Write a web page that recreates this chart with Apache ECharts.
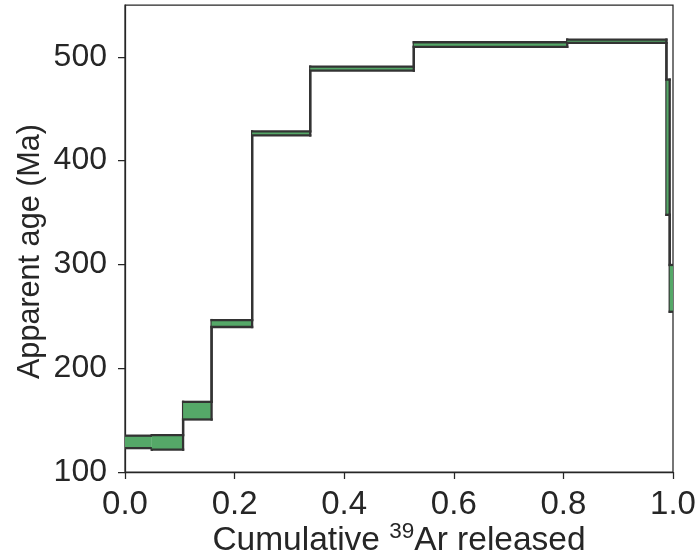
<!DOCTYPE html>
<html>
<head>
<meta charset="utf-8">
<script src="https://cdn.jsdelivr.net/npm/echarts@6/dist/echarts.min.js"></script>
<style>html,body{margin:0;padding:0;background:#fff}#c{width:699px;height:557px}</style>
</head>
<body>
<div id="c"></div>
<script>
// Step-heating data (cumulative 39Ar fraction, apparent age in Ma)
const stepStart = [0.000, 0.049, 0.106, 0.158, 0.232, 0.338, 0.527, 0.807, 0.988, 0.994];
const stepEnd   = [0.049, 0.106, 0.158, 0.232, 0.338, 0.527, 0.807, 0.988, 0.994, 1.000];
const ageLow    = [123.0, 121.5, 150.6, 239.7, 424.3, 486.7, 509.7, 513.5, 347.8, 254.4];
const ageHigh   = [135.0, 135.5, 167.6, 246.4, 428.2, 490.6, 514.1, 516.7, 478.1, 299.5];
const xTicks = [0, 0.2, 0.4, 0.6, 0.8, 1.0];
const yTicks = [100, 200, 300, 400, 500];

const FONT = "'Liberation Sans', Arial, Helvetica, sans-serif";
const TXT = '#262626';
const EDGE = '#333333';
const FILL = '#55A868';
const LW = 2.3;

// each item: start, end, low, high, nextLow, nextHigh (next = same if last)
const stepData = stepStart.map((s, i) => {
  const j = Math.min(i + 1, stepStart.length - 1);
  return [s, stepEnd[i], ageLow[i], ageHigh[i], ageLow[j], ageHigh[j]];
});

const chart = echarts.init(document.getElementById('c'), null, {renderer: 'canvas'});
chart.setOption({
  animation: false,
  backgroundColor: '#fff',
  grid: {left: 125, right: 26, top: 5, bottom: 85, show: true, borderColor: TXT, borderWidth: 1.25,
    backgroundColor: 'transparent', containLabel: false, outerBoundsMode: 'none'},
  xAxis: {
    type: 'value', min: 0, max: 1, interval: 0.2,
    name: '{a|Cumulative }{s|39}{a|Ar released}',
    nameLocation: 'middle', nameGap: 48, nameMoveOverlap: false,
    nameTextStyle: {
      color: TXT, fontFamily: FONT, fontSize: 33.5,
      rich: {
        a: {fontSize: 33.5, fontFamily: FONT, color: TXT, verticalAlign: 'bottom', lineHeight: 38},
        s: {fontSize: 22.5, fontFamily: FONT, color: TXT, verticalAlign: 'top', lineHeight: 38}
      }
    },
    axisLine: {show: true, lineStyle: {color: TXT, width: 1.25}},
    axisTick: {show: true, length: 7, lineStyle: {color: TXT, width: 1.25}, customValues: xTicks},
    axisLabel: {color: TXT, fontFamily: FONT, fontSize: 33, margin: 16, customValues: xTicks,
      formatter: v => v.toFixed(1)},
    splitLine: {show: false}
  },
  yAxis: {
    type: 'value', min: 100, max: 550, interval: 100,
    name: 'Apparent age (Ma)', nameLocation: 'middle', nameGap: 79, nameMoveOverlap: false,
    nameTextStyle: {color: TXT, fontFamily: FONT, fontSize: 30.6, padding: [0, 26, 0, 0]},
    axisLine: {show: true, lineStyle: {color: TXT, width: 1.25}},
    axisTick: {show: true, length: 7, lineStyle: {color: TXT, width: 1.25}, customValues: yTicks},
    axisLabel: {color: TXT, fontFamily: FONT, fontSize: 32, margin: 18, customValues: yTicks},
    splitLine: {show: false}
  },
  series: [
    {
      type: 'custom', z: 2, clip: true, silent: true,
      data: stepData,
      renderItem: function (params, api) {
        const x0 = api.value(0), x1 = api.value(1);
        const lo = api.value(2), hi = api.value(3), nlo = api.value(4), nhi = api.value(5);
        const tl = api.coord([x0, hi]), tr = api.coord([x1, hi]);
        const bl = api.coord([x0, lo]), br = api.coord([x1, lo]);
        const nt = api.coord([x1, nhi]), nb = api.coord([x1, nlo]);
        const ls = {stroke: EDGE, lineWidth: LW, lineCap: 'square'};
        return {
          type: 'group',
          children: [
            {type: 'rect', shape: {x: tl[0], y: tl[1], width: br[0] - tl[0], height: br[1] - tl[1]},
              style: {fill: FILL}},
            {type: 'line', shape: {x1: tl[0], y1: tl[1], x2: tr[0], y2: tr[1]}, style: ls},
            {type: 'line', shape: {x1: bl[0], y1: bl[1], x2: br[0], y2: br[1]}, style: ls},
            {type: 'line', shape: {x1: tr[0], y1: tr[1], x2: nt[0], y2: nt[1]}, style: ls},
            {type: 'line', shape: {x1: br[0], y1: br[1], x2: nb[0], y2: nb[1]}, style: ls}
          ]
        };
      }
    }
  ]
});
</script>
</body>
</html>
